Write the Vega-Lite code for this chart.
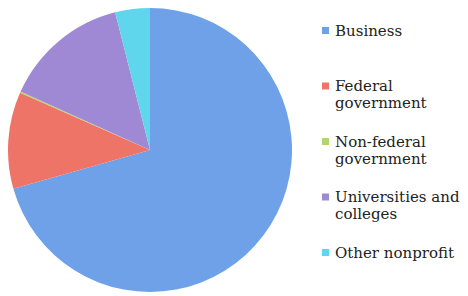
{
  "$schema": "https://vega.github.io/schema/vega-lite/v6.json",
  "width": 300,
  "height": 300,
  "padding": 0,
  "background": "white",
  "data": {
    "values": [
      {"sector": "Business", "share": 70.6, "idx": 1},
      {"sector": "Federal government", "share": 11.0, "idx": 2},
      {"sector": "Non-federal government", "share": 0.15, "idx": 3},
      {"sector": "Universities and colleges", "share": 14.3, "idx": 4},
      {"sector": "Other nonprofit", "share": 3.95, "idx": 5}
    ]
  },
  "mark": {"type": "arc", "outerRadius": 142},
  "encoding": {
    "theta": {"field": "share", "type": "quantitative", "stack": true},
    "order": {"field": "idx", "type": "quantitative"},
    "color": {
      "field": "sector",
      "type": "nominal",
      "sort": null,
      "scale": {
        "domain": ["Business", "Federal government", "Non-federal government", "Universities and colleges", "Other nonprofit"],
        "range": ["#6fa1e8", "#ee7468", "#b3d66a", "#9f88d4", "#5fd6ec"]
      },
      "legend": {
        "title": null,
        "orient": "none",
        "legendX": 318,
        "legendY": 23,
        "padding": 0,
        "symbolType": "square",
        "symbolSize": 49,
        "symbolStrokeWidth": 0,
        "labelFont": "DejaVu Serif",
        "labelFontSize": 15,
        "labelColor": "#222222",
        "labelOffset": 2,
        "labelLimit": 200,
        "rowPadding": 22.5,
        "labelExpr": "datum.label == 'Business' ? ['Business', ' '] : datum.label == 'Federal government' ? ['Federal', 'government'] : datum.label == 'Non-federal government' ? ['Non-federal', 'government'] : datum.label == 'Universities and colleges' ? ['Universities and', 'colleges'] : ['Other nonprofit', ' ']"
      }
    }
  },
  "config": {"view": {"stroke": null}}
}
